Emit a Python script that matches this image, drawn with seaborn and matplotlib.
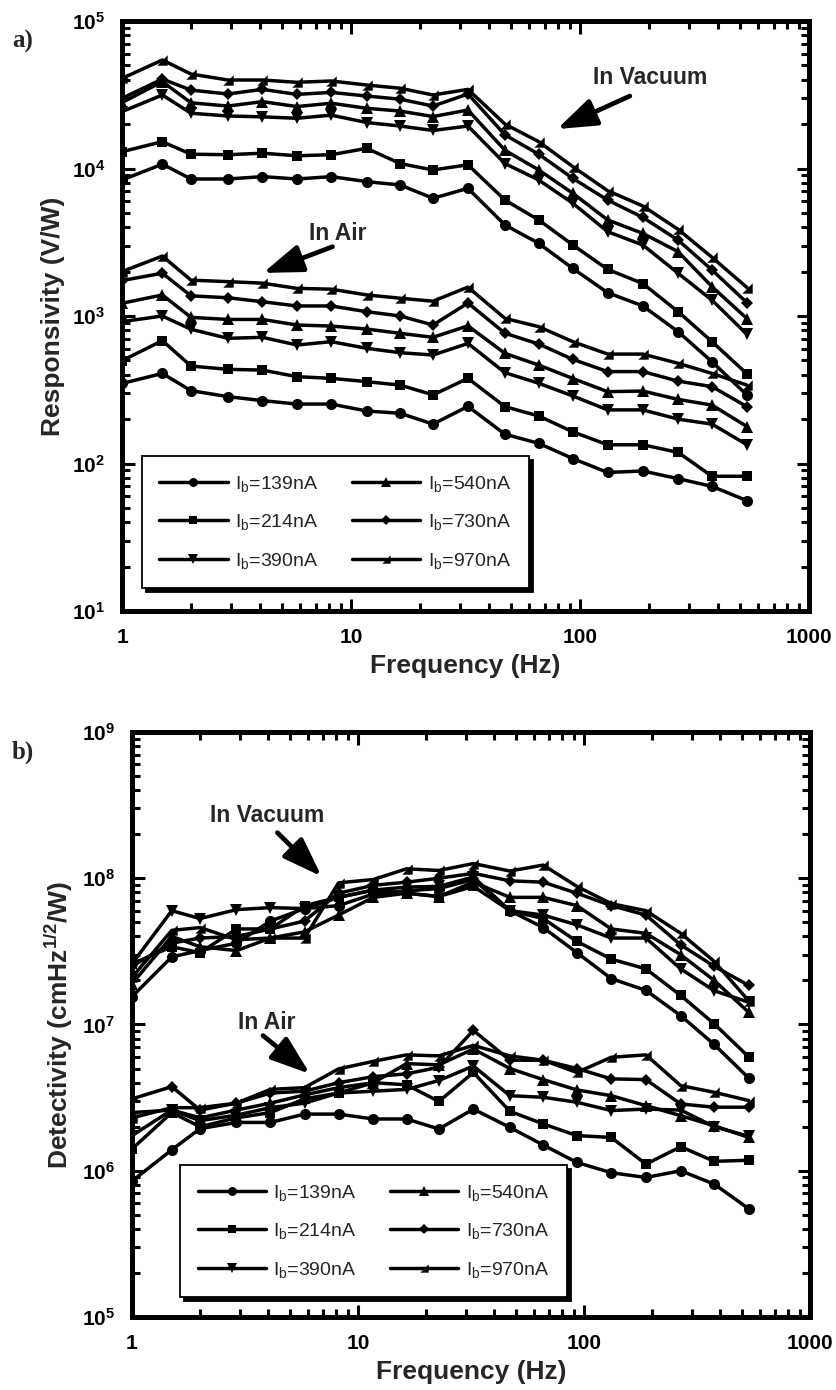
import numpy as np
import pandas as pd
import matplotlib
matplotlib.use("Agg")
import matplotlib.pyplot as plt
import seaborn as sns
from matplotlib.lines import Line2D
from matplotlib.ticker import LogLocator, FuncFormatter, NullFormatter

# ---------------- data ----------------
freq = [1, 1.5, 2, 2.9, 4.1, 5.8, 8.2, 11.7, 16.4, 22.8, 32.4, 47, 66, 93, 132, 188, 268, 377, 536]
currents = ["139", "214", "390", "540", "730", "970"]

# Responsivity (V/W), rows follow `currents`
resp_vacuum = [
    [8360, 10700, 8490, 8490, 8810, 8490, 8810, 8150, 7730, 6280, 7340, 4140, 3110, 2100, 1440, 1170, 783, 490, 291],
    [13000, 15200, 12500, 12400, 12700, 12200, 12400, 13700, 10800, 9770, 10600, 6110, 4480, 3030, 2070, 1660, 1070, 670, 405],
    [24300, 31500, 23700, 22700, 22400, 21900, 23000, 20500, 19400, 18100, 19400, 10800, 8360, 5810, 3730, 3030, 1950, 1280, 750],
    [28000, 38800, 27900, 26500, 28400, 26300, 27700, 25600, 24500, 22500, 24900, 13300, 9770, 6790, 4480, 3630, 2730, 1580, 960],
    [29900, 40400, 34000, 32000, 34400, 31800, 32800, 31000, 29500, 26500, 32000, 16900, 12500, 8570, 6110, 4660, 3270, 2050, 1230],
    [40800, 54400, 43700, 39800, 39800, 38400, 39200, 36800, 35000, 31500, 34400, 20000, 15200, 10300, 7070, 5570, 3870, 2500, 1560],
]
resp_air = [
    [349, 408, 312, 284, 267, 253, 253, 227, 219, 185, 244, 158, 137, 108, 87, 89, 79, 70, 56],
    [498, 681, 458, 435, 430, 388, 378, 359, 340, 292, 378, 243, 210, 164, 134, 134, 119, 82, 82],
    [916, 1000, 813, 706, 717, 636, 670, 604, 564, 544, 652, 413, 350, 287, 231, 231, 200, 185, 134],
    [1220, 1390, 979, 948, 948, 869, 855, 816, 763, 717, 858, 558, 465, 377, 307, 310, 272, 249, 178],
    [1740, 1950, 1370, 1330, 1250, 1170, 1170, 1070, 1000, 869, 1225, 764, 646, 508, 420, 420, 362, 332, 243],
    [2000, 2550, 1750, 1710, 1670, 1540, 1520, 1390, 1320, 1260, 1570, 964, 847, 670, 552, 552, 478, 408, 340],
]

# Detectivity (cmHz^1/2/W), rows follow `currents`
det_vacuum = [
    [1.55e7, 2.9e7, 3.2e7, 3.6e7, 5.1e7, 6.2e7, 6.5e7, 7.8e7, 8.2e7, 8.5e7, 9.8e7, 6.0e7, 4.6e7, 3.1e7, 2.06e7, 1.71e7, 1.15e7, 7.3e6, 4.3e6],
    [2.6e7, 3.4e7, 3.1e7, 4.5e7, 4.5e7, 6.5e7, 7.4e7, 8.3e7, 7.9e7, 7.5e7, 8.8e7, 6.0e7, 5.3e7, 3.7e7, 2.8e7, 2.4e7, 1.58e7, 1.01e7, 6.0e6],
    [2.6e7, 6.0e7, 5.3e7, 6.1e7, 6.3e7, 6.2e7, 7.4e7, 8.3e7, 8.7e7, 8.8e7, 1.02e8, 6.0e7, 5.6e7, 4.8e7, 3.9e7, 3.9e7, 2.4e7, 1.7e7, 1.42e7],
    [1.9e7, 4.0e7, 3.4e7, 3.2e7, 3.9e7, 4.3e7, 5.6e7, 7.4e7, 7.9e7, 7.5e7, 9.4e7, 7.4e7, 7.4e7, 6.5e7, 4.5e7, 4.2e7, 3.0e7, 2.0e7, 1.21e7],
    [2.5e7, 3.6e7, 3.9e7, 4.0e7, 4.5e7, 5.1e7, 7.9e7, 8.95e7, 9.4e7, 1.0e8, 1.08e8, 9.6e7, 9.4e7, 7.9e7, 6.5e7, 5.6e7, 3.5e7, 2.5e7, 1.85e7],
    [2.1e7, 4.4e7, 4.6e7, 3.8e7, 3.9e7, 3.9e7, 9.3e7, 9.8e7, 1.16e8, 1.13e8, 1.26e8, 1.12e8, 1.23e8, 8.8e7, 6.7e7, 6.0e7, 4.2e7, 2.7e7, 1.45e7],
]
det_air = [
    [8.5e5, 1.39e6, 1.94e6, 2.14e6, 2.14e6, 2.44e6, 2.44e6, 2.26e6, 2.26e6, 1.93e6, 2.64e6, 1.98e6, 1.5e6, 1.14e6, 9.7e5, 9.0e5, 1.0e6, 8.1e5, 5.5e5],
    [1.41e6, 2.5e6, 2.0e6, 2.3e6, 2.5e6, 3.1e6, 3.4e6, 4.0e6, 3.87e6, 2.98e6, 4.7e6, 2.55e6, 2.09e6, 1.74e6, 1.69e6, 1.11e6, 1.46e6, 1.16e6, 1.18e6],
    [1.74e6, 2.6e6, 2.2e6, 2.4e6, 2.7e6, 2.9e6, 3.4e6, 3.5e6, 3.6e6, 4.14e6, 5.2e6, 3.26e6, 3.18e6, 2.94e6, 2.58e6, 2.64e6, 2.6e6, 2.0e6, 1.72e6],
    [2.5e6, 2.6e6, 2.3e6, 2.6e6, 2.9e6, 3.3e6, 3.7e6, 4.0e6, 5.4e6, 5.3e6, 6.8e6, 5.0e6, 4.2e6, 3.57e6, 3.26e6, 2.79e6, 2.38e6, 2.03e6, 1.69e6],
    [3.1e6, 3.76e6, 2.6e6, 2.9e6, 3.4e6, 3.5e6, 4.0e6, 4.4e6, 4.6e6, 5.1e6, 9.1e6, 5.7e6, 5.7e6, 5.0e6, 4.25e6, 4.2e6, 2.86e6, 2.72e6, 2.72e6],
    [2.3e6, 2.7e6, 2.7e6, 2.9e6, 3.6e6, 3.7e6, 4.97e6, 5.6e6, 6.2e6, 6.1e6, 7.2e6, 6.1e6, 5.7e6, 4.7e6, 5.97e6, 6.2e6, 3.82e6, 3.44e6, 3.02e6],
]

# ---------------- style ----------------
sns.set_theme(style="ticks")
plt.rcParams["font.family"] = ["Liberation Sans", "DejaVu Sans"]
plt.rcParams["font.weight"] = "bold"
plt.rcParams["mathtext.default"] = "regular"

tri_corner = [(-1, -1), (1, -1), (1, 1), (-1, -1)]
marker_map = {"139": "o", "214": "s", "390": "v", "540": "^", "730": "D", "970": tri_corner}
size_map = {"139": 8, "214": 7.5, "390": 8.5, "540": 8.5, "730": 6.5, "970": 7.5}
labels = {c: r"I$_{\mathregular{b}}$=" + c + "nA" for c in currents}


def long_frame(vac, air):
    rows = []
    for env, block in (("vacuum", vac), ("air", air)):
        for c, vals in zip(currents, block):
            for f, v in zip(freq, vals):
                rows.append({"freq": f, "value": v, "current": c, "env": env})
    return pd.DataFrame(rows)


def draw(ax, df):
    sns.lineplot(data=df, x="freq", y="value", hue="current", style="current",
                 units="env", estimator=None, palette={c: "black" for c in currents},
                 markers=marker_map, dashes=False, legend=False, ax=ax,
                 linewidth=2.5, markersize=8, markeredgewidth=0, sort=True)
    for line in ax.lines:
        m = line.get_marker()
        for c in currents:
            mm = marker_map[c]
            if (isinstance(m, str) and isinstance(mm, str) and m == mm) or \
               (not isinstance(m, str) and not isinstance(mm, str)):
                line.set_markersize(size_map[c])


def style_axes(ax, ylo, yhi, ylabel):
    ax.set_xscale("log")
    ax.set_yscale("log")
    ax.set_xlim(1, 1000)
    ax.set_ylim(ylo, yhi)
    for s in ax.spines.values():
        s.set_visible(True)
        s.set_linewidth(3.6)
        s.set_color("black")
    ax.tick_params(which="both", direction="in", top=True, right=True, colors="black")
    ax.tick_params(which="major", length=9, width=2.2, pad=12, labelsize=15)
    ax.tick_params(which="minor", length=6, width=2.2)
    for axis in (ax.xaxis, ax.yaxis):
        axis.set_major_locator(LogLocator(base=10, numticks=12))
        axis.set_minor_locator(LogLocator(base=10, subs=np.arange(2, 10), numticks=40))
        axis.set_minor_formatter(NullFormatter())
    ax.xaxis.set_major_formatter(FuncFormatter(lambda v, p: f"{v:g}"))
    ax.yaxis.set_major_formatter(FuncFormatter(lambda v, p: r"$10^{%d}$" % round(np.log10(v))))
    ax.set_xlabel("Frequency (Hz)", fontsize=19, fontweight="bold", labelpad=5)
    ax.set_ylabel(ylabel, fontsize=19, fontweight="bold", labelpad=5)
    ax.grid(False)


def add_legend(ax, anchor):
    handles = [Line2D([], [], color="black", lw=2.5, marker=marker_map[c],
                      markersize=size_map[c] * 0.8, markeredgewidth=0) for c in currents]
    leg = ax.legend(handles, [labels[c] for c in currents], ncol=2, loc="lower left",
                    bbox_to_anchor=anchor, borderaxespad=0, frameon=True, fancybox=False,
                    shadow={"ox": 3, "oy": -3, "facecolor": "black", "edgecolor": "black", "alpha": 1},
                    prop={"weight": "normal", "size": 14}, handlelength=3.5,
                    handletextpad=0.4, columnspacing=1.7, labelspacing=0.95, borderpad=0.9)
    fr = leg.get_frame()
    fr.set_edgecolor("black")
    fr.set_linewidth(1.3)
    fr.set_facecolor("white")
    fr.set_alpha(1)


def arrow(ax, tail, head):
    ax.annotate("", xy=head, xytext=tail,
                arrowprops=dict(arrowstyle="-|>,head_length=2.4,head_width=0.85",
                                mutation_scale=10, lw=3.4, color="black",
                                shrinkA=0, shrinkB=0))


fig = plt.figure(figsize=(8.37, 13.9), dpi=100)
ax1 = fig.add_axes([0.1458, 0.5604, 0.8208, 0.4245])
ax2 = fig.add_axes([0.1577, 0.0525, 0.8100, 0.4209])

draw(ax1, long_frame(resp_vacuum, resp_air))
style_axes(ax1, 1e1, 1e5, "Responsivity (V/W)")
add_legend(ax1, (0.029, 0.039))
ax1.text(202, 41100, "In Vacuum", ha="center", va="center", fontsize=16.5, fontweight="bold")
arrow(ax1, (165, 31000), (79.4, 18500))
ax1.text(8.77, 3650, "In Air", ha="center", va="center", fontsize=16.5, fontweight="bold")
arrow(ax1, (8.3, 2950), (4.13, 1960))

draw(ax2, long_frame(det_vacuum, det_air))
style_axes(ax2, 1e5, 1e9, r"Detectivity (cmHz$^{1/2}$/W)")
add_legend(ax2, (0.071, 0.034))
ax2.text(3.95, 2.7e8, "In Vacuum", ha="center", va="center", fontsize=16.5, fontweight="bold")
arrow(ax2, (4.4, 2.05e8), (6.9, 1.03e8))
ax2.text(3.96, 1.03e7, "In Air", ha="center", va="center", fontsize=16.5, fontweight="bold")
arrow(ax2, (3.8, 8.4e6), (6.13, 4.6e6))

fig.text(12 / 837, 1 - 41 / 1390, "a)", fontsize=18, fontweight="bold",
         family=["Liberation Serif", "DejaVu Serif"], ha="left", va="center")
fig.text(12 / 837, 1 - 752 / 1390, "b)", fontsize=18, fontweight="bold",
         family=["Liberation Serif", "DejaVu Serif"], ha="left", va="center")

fig.savefig("out.png", dpi=100)
